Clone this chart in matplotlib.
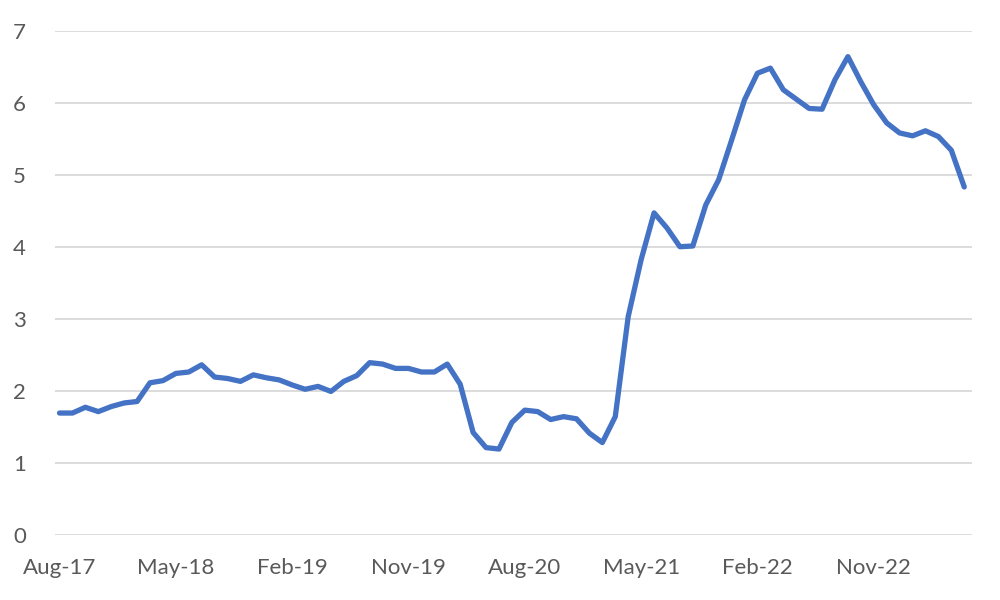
import matplotlib
matplotlib.use("Agg")
import matplotlib.pyplot as plt
import pandas as pd

# =====================
# Data (monthly, Aug-17 .. Jun-23)
# =====================
months = pd.date_range("2017-08-01", "2023-06-01", freq="MS")
values = [
    1.69, 1.69, 1.77, 1.71, 1.78, 1.83, 1.85, 2.11, 2.14, 2.24, 2.26, 2.36,
    2.19, 2.17, 2.13, 2.22, 2.18, 2.15, 2.08, 2.02, 2.06, 1.99, 2.13, 2.21,
    2.39, 2.37, 2.31, 2.31, 2.26, 2.26, 2.37, 2.09, 1.42, 1.21, 1.19, 1.56,
    1.73, 1.71, 1.60, 1.64, 1.61, 1.41, 1.28, 1.64, 3.03, 3.82, 4.47, 4.26,
    4.00, 4.01, 4.58, 4.93, 5.48, 6.04, 6.41, 6.48, 6.18, 6.05, 5.92, 5.91,
    6.32, 6.64, 6.29, 5.97, 5.72, 5.58, 5.54, 5.61, 5.53, 5.34, 4.83,
]
labels = [d.strftime("%b-%y") for d in months]
tick_every = 9
y_ticks = list(range(0, 8))

plt.rcParams['font.family'] = ['Lato', 'DejaVu Sans']
text_col = "#595959"
grid_col = "#D9D9D9"

fig = plt.figure(figsize=(10, 6), dpi=100)
ax = fig.add_axes([0.055, 0.1088, 0.917, 0.84])

x = list(range(len(values)))
ax.plot(x, values, color="#4472C4", linewidth=3.8, solid_joinstyle="round",
        solid_capstyle="round", zorder=3)

ax.set_xlim(-0.35, len(values) - 0.4)
ax.set_ylim(0, 7)
ax.set_yticks(y_ticks)
ax.set_xticks(x[::tick_every])
ax.set_xticklabels(labels[::tick_every])

ax.yaxis.grid(True, color=grid_col, linewidth=1.3)
ax.set_axisbelow(True)
for s in ax.spines.values():
    s.set_visible(False)
ax.tick_params(axis="both", length=0, labelsize=16, colors=text_col)
ax.tick_params(axis="y", pad=21)
ax.tick_params(axis="x", pad=17)

fig.savefig("out.png", dpi=100)
